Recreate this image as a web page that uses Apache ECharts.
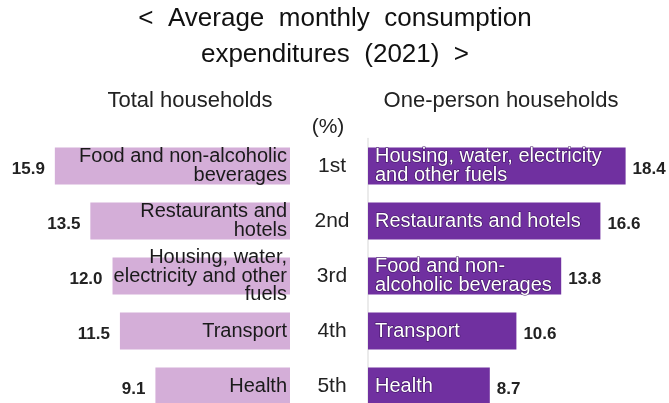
<!DOCTYPE html>
<html>
<head>
<meta charset="utf-8">
<script src="https://cdn.jsdelivr.net/npm/echarts@6/dist/echarts.min.js"></script>
<style>
	html, body { margin: 0; padding: 0; background: #fff; }
	#chart { width: 669px; height: 403px; }
</style>
</head>
<body>
<div id="chart"></div>
<script>
var ranks = ['1st', '2nd', '3rd', '4th', '5th'];
var totalNames = [
	'Food and non-alcoholic\nbeverages',
	'Restaurants and\nhotels',
	'Housing, water,\nelectricity and other\nfuels',
	'Transport',
	'Health'
];
var totalValues = [15.9, 13.5, 12.0, 11.5, 9.1];
var singleNames = [
	'Housing, water, electricity\nand other fuels',
	'Restaurants and hotels',
	'Food and non-\nalcoholic beverages',
	'Transport',
	'Health'
];
var singleValues = [18.4, 16.6, 13.8, 10.6, 8.7];

var FONT = "'Liberation Sans', Arial, sans-serif";
var NUM_FONT = "'Liberation Sans Narrow', 'Liberation Sans', Arial, sans-serif";

var chart = echarts.init(document.getElementById('chart'));

var valueLabel = function (pos, dist) {
	return {
		show: true,
		position: pos,
		distance: dist,
		offset: [0, 3],
		fontFamily: NUM_FONT,
		fontWeight: 'bold',
		fontSize: 17,
		color: '#222',
		formatter: function (p) { return p.value.toFixed(1); }
	};
};

var option = {
	backgroundColor: '#fff',
	animation: false,
	graphic: [
		{
			type: 'text', x: 335, y: 19,
			style: {
				text: '<  Average  monthly  consumption', font: '26px ' + FONT,
				fill: '#111', align: 'center', verticalAlign: 'middle'
			}
		},
		{
			type: 'text', x: 335, y: 55,
			style: {
				text: 'expenditures  (2021)  >', font: '26px ' + FONT,
				fill: '#111', align: 'center', verticalAlign: 'middle'
			}
		},
		{
			type: 'text', x: 190, y: 101,
			style: {
				text: 'Total households', font: '22px ' + FONT,
				fill: '#222', align: 'center', verticalAlign: 'middle'
			}
		},
		{
			type: 'text', x: 501, y: 101,
			style: {
				text: 'One-person households', font: '22px ' + FONT,
				fill: '#222', align: 'center', verticalAlign: 'middle'
			}
		},
		{
			type: 'text', x: 328, y: 127,
			style: {
				text: '(%)', font: '21px ' + FONT,
				fill: '#222', align: 'center', verticalAlign: 'middle'
			}
		}
	],
	grid: [
		{ left: 9, width: 281, top: 138.5, height: 275, outerBoundsMode: 'none', containLabel: false },
		{ left: 368, width: 280, top: 138.5, height: 275, outerBoundsMode: 'none', containLabel: false }
	],
	xAxis: [
		{ gridIndex: 0, type: 'value', min: 0, max: 19, inverse: true, show: false },
		{ gridIndex: 1, type: 'value', min: 0, max: 20, show: false }
	],
	yAxis: [
		{ gridIndex: 0, type: 'category', data: ranks, inverse: true, show: false },
		{
			gridIndex: 1, type: 'category', data: ranks, inverse: true,
			axisLine: { show: true, lineStyle: { color: '#e4e4e4', width: 1.5 } },
			axisTick: { show: false },
			axisLabel: {
				margin: 36, align: 'center',
				fontFamily: FONT, fontSize: 21, color: '#222'
			}
		}
	],
	series: [
		{
			type: 'bar', xAxisIndex: 0, yAxisIndex: 0,
			data: totalValues, barWidth: 37, barGap: '-100%',
			itemStyle: { color: '#d4aed8' },
			label: {
				show: true, position: 'insideRight', distance: 3,
				fontFamily: FONT, fontSize: 20, lineHeight: 18.5, color: '#1a1a1a',
				formatter: function (p) { return totalNames[p.dataIndex]; }
			}
		},
		{
			type: 'bar', xAxisIndex: 0, yAxisIndex: 0,
			data: totalValues, barWidth: 37, barGap: '-100%', silent: true,
			itemStyle: { color: 'rgba(0,0,0,0)' },
			label: valueLabel('left', 10)
		},
		{
			type: 'bar', xAxisIndex: 1, yAxisIndex: 1,
			data: singleValues, barWidth: 37, barGap: '-100%',
			itemStyle: { color: '#7030a0' },
			label: {
				show: true, position: 'insideLeft', distance: 7,
				fontFamily: FONT, fontSize: 20, lineHeight: 18.5, color: '#fff',
				textBorderColor: '#3e1460', textBorderWidth: 1.2,
				formatter: function (p) { return singleNames[p.dataIndex]; }
			}
		},
		{
			type: 'bar', xAxisIndex: 1, yAxisIndex: 1,
			data: singleValues, barWidth: 37, barGap: '-100%', silent: true,
			itemStyle: { color: 'rgba(0,0,0,0)' },
			label: valueLabel('right', 7)
		}
	]
};

chart.setOption(option);
</script>
</body>
</html>
